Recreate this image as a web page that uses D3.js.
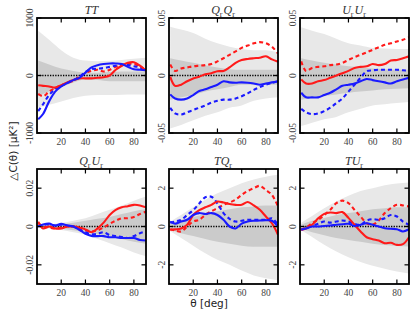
<!DOCTYPE html>
<html>
<head>
<meta charset="utf-8">
<script src="https://cdn.jsdelivr.net/npm/d3@7"></script>
<style>
  body { margin: 0; background: #fff; }
  svg { display: block; }
</style>
</head>
<body>
<svg id="chart" width="415" height="318"></svg>
<script>
// angular grids (deg)
const lineTheta = [1, 5, 10, 15, 20, 25, 30, 35, 40, 45, 50, 55, 60, 65, 70, 75, 80, 85, 90];
const bandTheta = [1, 10, 20, 30, 40, 50, 60, 70, 80, 90];
const xTicks = [20, 40, 60, 80];

// TT
const ttRed      = [-170, -180, -190, -210, -170, -120, -80, -50, -50, -50, -40, -30, 0, 100, 170, 220, 230, 170, 80];
const ttRedDash  = [-320, -360, -280, -220, -170, -130, -90, -20, 40, 80, 100, 70, 100, 150, 180, 200, 200, 160, 80];
const ttBlue     = [-760, -670, -450, -280, -190, -130, -80, -40, 50, 140, 180, 200, 210, 210, 200, 150, 110, 100, 90];
const ttBlueDash = [-620, -500, -340, -240, -180, -130, -80, -20, 60, 110, 120, 130, 150, 170, 190, 180, 160, 140, 80];
const ttOuterUp  = [780, 620, 440, 310, 260, 250, 255, 270, 290, 310];
const ttOuterLo  = [-560, -510, -450, -390, -350, -340, -340, -335, -330, -330];
const ttInnerUp  = [260, 190, 120, 80, 50, 50, 60, 70, 70, 70];
const ttInnerLo  = [-360, -280, -200, -120, -70, -80, -100, -100, -100, -100];

// QrQr
const qqRed      = [-0.001, -0.009, -0.008, -0.005, -0.0026, -0.001, 0.001, 0.002, 0.0037, 0.004, 0.007, 0.011, 0.0135, 0.0144, 0.015, 0.0155, 0.0167, 0.014, 0.012];
const qqRedDash  = [0.0095, 0.004, 0.006, 0.007, 0.008, 0.0085, 0.009, 0.010, 0.0123, 0.015, 0.018, 0.021, 0.024, 0.026, 0.028, 0.029, 0.028, 0.025, 0.019];
const qqBlue     = [-0.0164, -0.020, -0.021, -0.020, -0.017, -0.0135, -0.012, -0.010, -0.008, -0.005, -0.006, -0.0063, -0.006, -0.0063, -0.007, -0.008, -0.007, -0.006, -0.005];
const qqBlueDash = [-0.028, -0.033, -0.034, -0.032, -0.030, -0.028, -0.026, -0.0236, -0.022, -0.021, -0.021, -0.020, -0.018, -0.0155, -0.0125, -0.010, -0.008, -0.0065, -0.005];
const qqOuterUp  = [0.0425, 0.040, 0.037, 0.032, 0.028, 0.025, 0.023, 0.022, 0.022, 0.020];
const qqOuterLo  = [-0.046, -0.043, -0.039, -0.035, -0.032, -0.028, -0.026, -0.022, -0.020, -0.019];
const qqInnerUp  = [0.015, 0.013, 0.011, 0.009, 0.007, 0.0055, 0.005, 0.005, 0.005, 0.005];
const qqInnerLo  = [-0.021, -0.019, -0.017, -0.014, -0.012, -0.010, -0.008, -0.008, -0.008, -0.008];

// UrUr
const uuRed      = [-0.0034, -0.007, -0.007, -0.005, -0.004, -0.002, 0.0, 0.002, 0.004, 0.0066, 0.0075, 0.008, 0.010, 0.009, 0.010, 0.013, 0.0135, 0.015, 0.0167];
const uuRedDash  = [0.0123, 0.004, 0.0066, 0.0075, 0.008, 0.009, 0.0095, 0.011, 0.0135, 0.016, 0.018, 0.020, 0.0224, 0.0245, 0.0267, 0.028, 0.0296, 0.031, 0.0333];
const uuBlue     = [-0.015, -0.019, -0.019, -0.019, -0.017, -0.015, -0.012, -0.009, -0.008, -0.007, -0.005, -0.003, -0.004, -0.005, -0.006, -0.007, -0.005, -0.0035, -0.002];
const uuBlueDash = [-0.029, -0.032, -0.0336, -0.033, -0.031, -0.028, -0.024, -0.020, -0.014, -0.008, -0.002, 0.0037, 0.0045, 0.005, 0.005, 0.005, 0.005, 0.0045, 0.004];
const uuOuterUp  = [0.042, 0.039, 0.036, 0.032, 0.028, 0.026, 0.024, 0.0235, 0.023, 0.023];
const uuOuterLo  = [-0.044, -0.041, -0.038, -0.036, -0.032, -0.029, -0.026, -0.025, -0.024, -0.023];
const uuInnerUp  = [0.015, 0.013, 0.011, 0.0095, 0.008, 0.007, 0.006, 0.0055, 0.005, 0.005];
const uuInnerLo  = [-0.021, -0.0195, -0.018, -0.0165, -0.015, -0.014, -0.013, -0.012, -0.0115, -0.011];

// QrUr
const quRed      = [0.0025, -0.001, 0.0, -0.001, -0.001, 0.0, 0.0, -0.0005, -0.0015, -0.003, -0.001, 0.002, 0.006, 0.0087, 0.010, 0.0106, 0.0113, 0.011, 0.010];
const quRedDash  = [0.002, 0.0, -0.0005, -0.001, -0.0005, 0.0, 0.0, -0.001, -0.002, -0.0026, -0.002, -0.0005, 0.0014, 0.003, 0.0043, 0.0043, 0.005, 0.0065, 0.0078];
const quBlue     = [0.0, 0.001, 0.0015, 0.0005, 0.0014, 0.0005, 0.0, -0.0017, -0.0038, -0.0049, -0.005, -0.005, -0.0056, -0.0056, -0.006, -0.006, -0.006, -0.007, -0.0073];
const quBlueDash = [0.0, 0.001, 0.001, 0.0005, 0.001, 0.0005, 0.0, -0.0015, -0.003, -0.004, -0.0038, -0.003, -0.0045, -0.005, -0.0055, -0.006, -0.005, -0.0035, -0.0026];
const quOuterUp  = [0.0003, 0.001, 0.0018, 0.003, 0.0043, 0.0065, 0.0087, 0.011, 0.0135, 0.0157];
const quOuterLo  = [-0.0003, -0.001, -0.0018, -0.003, -0.0043, -0.0065, -0.0087, -0.011, -0.0135, -0.0155];
const quInnerUp  = [0.0002, 0.0007, 0.0012, 0.002, 0.003, 0.004, 0.005, 0.0065, 0.008, 0.009];
const quInnerLo  = [-0.0002, -0.0007, -0.0012, -0.002, -0.003, -0.004, -0.005, -0.0065, -0.008, -0.009];

// TQr
const tqRed      = [-0.17, -0.15, -0.1, 0.09, 0.6, 0.85, 1.0, 1.13, 1.3, 1.25, 1.17, 1.13, 1.13, 1.28, 1.1, 0.87, 0.52, 0.17, -0.43];
const tqRedDash  = [-0.14, -0.2, -0.26, 0.0, 0.26, 0.35, 0.6, 0.8, 0.95, 1.13, 1.25, 1.4, 1.65, 1.85, 2.0, 2.12, 1.9, 1.65, 1.04];
const tqBlue     = [0.26, 0.14, 0.26, 0.35, 0.6, 0.7, 0.65, 0.7, 0.6, 0.35, 0.0, -0.1, 0.15, 0.26, 0.3, 0.31, 0.33, 0.3, 0.0];
const tqBlueDash = [0.2, 0.26, 0.35, 0.6, 0.85, 1.2, 1.53, 1.55, 1.2, 0.7, 0.4, 0.26, 0.3, 0.35, 0.35, 0.35, 0.35, 0.43, 0.09];
const tqOuterUp  = [0.25, 0.6, 1.0, 1.4, 1.74, 2.0, 2.26, 2.45, 2.6, 2.7];
const tqOuterLo  = [-0.25, -0.6, -1.0, -1.4, -1.74, -2.0, -2.3, -2.55, -2.7, -2.8];
const tqInnerUp  = [0.15, 0.35, 0.5, 0.65, 0.8, 0.9, 1.0, 1.05, 1.1, 1.1];
const tqInnerLo  = [-0.15, -0.35, -0.5, -0.65, -0.8, -0.9, -1.0, -1.05, -1.05, -1.05];

// TUr
const tuRed      = [-0.17, -0.1, 0.09, 0.43, 0.66, 0.73, 0.7, 0.75, 0.45, 0.09, -0.26, -0.56, -0.66, -0.73, -0.87, -0.85, -0.96, -0.92, -0.56];
const tuRedDash  = [-0.17, -0.05, 0.17, 0.35, 0.6, 0.87, 1.22, 1.35, 1.22, 0.87, 0.52, 0.17, 0.1, 0.31, 0.7, 0.96, 1.13, 1.1, 1.04];
const tuBlue     = [-0.17, -0.1, 0.0, 0.0, 0.03, 0.05, 0.09, 0.12, 0.14, 0.03, 0.09, 0.17, 0.09, 0.0, -0.09, -0.12, -0.14, -0.26, -0.14];
const tuBlueDash = [-0.14, -0.09, 0.03, 0.14, 0.26, 0.2, 0.26, 0.31, 0.26, 0.14, 0.09, 0.31, 0.38, 0.35, 0.43, 0.6, 0.52, 0.26, 0.09];
const tuOuterUp  = [0.2, 0.55, 0.95, 1.3, 1.6, 1.85, 2.0, 2.15, 2.25, 2.3];
const tuOuterLo  = [-0.2, -0.55, -0.95, -1.3, -1.6, -1.85, -2.05, -2.2, -2.35, -2.45];
const tuInnerUp  = [0.1, 0.3, 0.45, 0.6, 0.7, 0.8, 0.9, 0.95, 1.0, 1.0];
const tuInnerLo  = [-0.1, -0.3, -0.45, -0.6, -0.7, -0.8, -0.9, -0.97, -1.02, -1.04];

const titles = [["T", "T"], ["Q", "Q"], ["U", "U"], ["Q", "U"], ["T", "Q"], ["T", "U"]];
const subs = [[false, false], [true, true], [true, true], [true, true], [false, true], [false, true]];
const yLims = [1000, 0.05, 0.05, 0.03, 3, 3];
const yTickSets = [[-1000, 0, 1000], [-0.05, 0, 0.05], [-0.05, 0, 0.05], [-0.02, 0, 0.02], [-2, 0, 2], [-2, 0, 2]];
const yTickText = [["-1000", "0", "1000"], ["-0.05", "0", "0.05"], ["-0.05", "0", "0.05"], ["-0.02", "0", "0.02"], ["-2", "0", "2"], ["-2", "0", "2"]];

const panels = [
  { lines: [ttRed, ttRedDash, ttBlue, ttBlueDash], bands: [ttOuterUp, ttOuterLo, ttInnerUp, ttInnerLo] },
  { lines: [qqRed, qqRedDash, qqBlue, qqBlueDash], bands: [qqOuterUp, qqOuterLo, qqInnerUp, qqInnerLo] },
  { lines: [uuRed, uuRedDash, uuBlue, uuBlueDash], bands: [uuOuterUp, uuOuterLo, uuInnerUp, uuInnerLo] },
  { lines: [quRed, quRedDash, quBlue, quBlueDash], bands: [quOuterUp, quOuterLo, quInnerUp, quInnerLo] },
  { lines: [tqRed, tqRedDash, tqBlue, tqBlueDash], bands: [tqOuterUp, tqOuterLo, tqInnerUp, tqInnerLo] },
  { lines: [tuRed, tuRedDash, tuBlue, tuBlueDash], bands: [tuOuterUp, tuOuterLo, tuInnerUp, tuInnerLo] }
];

const lineColors = ["#ff1a1a", "#ff1a1a", "#1a1aff", "#1a1aff"];
const lineDash = [null, "4,3", null, "4,3"];

const colLeft = [37, 169, 300];
const rowTop = [18, 169];
const pw = 109, ph = 115;
const serif = "'Liberation Serif', 'DejaVu Serif', serif";
const sans = "'DejaVu Sans', sans-serif";

const svg = d3.select("#chart");
svg.append("rect").attr("width", 415).attr("height", 318).attr("fill", "#fff");

panels.forEach((p, i) => {
  const x0 = colLeft[i % 3], y0 = rowTop[Math.floor(i / 3)];
  const g = svg.append("g").attr("transform", `translate(${x0},${y0})`);
  const x = d3.scaleLinear().domain([0, 90]).range([0, pw]);
  const y = d3.scaleLinear().domain([-yLims[i], yLims[i]]).range([ph, 0]);

  const clipId = "clip" + i;
  g.append("clipPath").attr("id", clipId).append("rect").attr("width", pw).attr("height", ph);
  const inner = g.append("g").attr("clip-path", `url(#${clipId})`);

  const area = d3.area().x((d, j) => x(bandTheta[j])).y0(d => y(d[0])).y1(d => y(d[1])).curve(d3.curveMonotoneX);
  inner.append("path").datum(d3.zip(p.bands[1], p.bands[0])).attr("d", area).attr("fill", "#e8e8e8");
  inner.append("path").datum(d3.zip(p.bands[3], p.bands[2])).attr("d", area).attr("fill", "#cbcbcb");

  inner.append("line").attr("x1", 0).attr("x2", pw).attr("y1", y(0)).attr("y2", y(0))
    .attr("stroke", "#000").attr("stroke-width", 1.3).attr("stroke-dasharray", "1.3,1.3");

  const line = d3.line().x((d, j) => x(lineTheta[j])).y(d => y(d)).curve(d3.curveCatmullRom.alpha(0.5));
  [1, 3, 0, 2].forEach(k => {
    inner.append("path").datum(p.lines[k]).attr("d", line)
      .attr("fill", "none").attr("stroke", lineColors[k]).attr("stroke-width", 2.1)
      .attr("stroke-dasharray", lineDash[k]);
  });

  // ticks on all four sides, pointing inward
  xTicks.forEach(t => {
    g.append("line").attr("x1", x(t)).attr("x2", x(t)).attr("y1", ph).attr("y2", ph - 4.5).attr("stroke", "#000").attr("stroke-width", 1.2);
    g.append("line").attr("x1", x(t)).attr("x2", x(t)).attr("y1", 0).attr("y2", 4.5).attr("stroke", "#000").attr("stroke-width", 1.2);
    g.append("text").attr("x", x(t)).attr("y", ph + 12).attr("text-anchor", "middle")
      .attr("font-family", serif).attr("font-size", 9.5).attr("fill", "#444").text(t);
  });
  yTickSets[i].forEach((t, j) => {
    g.append("line").attr("x1", 0).attr("x2", 4.5).attr("y1", y(t)).attr("y2", y(t)).attr("stroke", "#000").attr("stroke-width", 1.2);
    g.append("line").attr("x1", pw).attr("x2", pw - 4.5).attr("y1", y(t)).attr("y2", y(t)).attr("stroke", "#000").attr("stroke-width", 1.2);
    g.append("text").attr("transform", `translate(-4,${y(t)}) rotate(-90)`).attr("text-anchor", "middle")
      .attr("font-family", serif).attr("font-size", 9.5).attr("fill", "#444").text(yTickText[i][j]);
  });

  g.append("rect").attr("width", pw).attr("height", ph).attr("fill", "none").attr("stroke", "#000").attr("stroke-width", 1.8);

  const title = g.append("text").attr("x", pw / 2).attr("y", -4).attr("text-anchor", "middle")
    .attr("font-family", serif).attr("font-size", 12).attr("fill", "#333");
  titles[i].forEach((s, j) => {
    title.append("tspan").attr("font-style", "italic").text(s);
    if (subs[i][j]) title.append("tspan").attr("font-size", 8).attr("dy", 2.5).text("r");
    if (subs[i][j]) title.append("tspan").attr("dy", -2.5).text("\u200a");
  });
});

svg.append("text").attr("x", 209).attr("y", 307).attr("text-anchor", "middle")
  .attr("font-family", sans).attr("font-size", 10.5).attr("fill", "#222").text("\u03b8 [deg]");

svg.append("text").attr("transform", "translate(17,151) rotate(-90)").attr("text-anchor", "middle")
  .attr("font-family", sans).attr("font-size", 10.5).attr("fill", "#222").text("\u25b3C(\u03b8) [\u03bcK\u00b2]");
</script>
</body>
</html>
